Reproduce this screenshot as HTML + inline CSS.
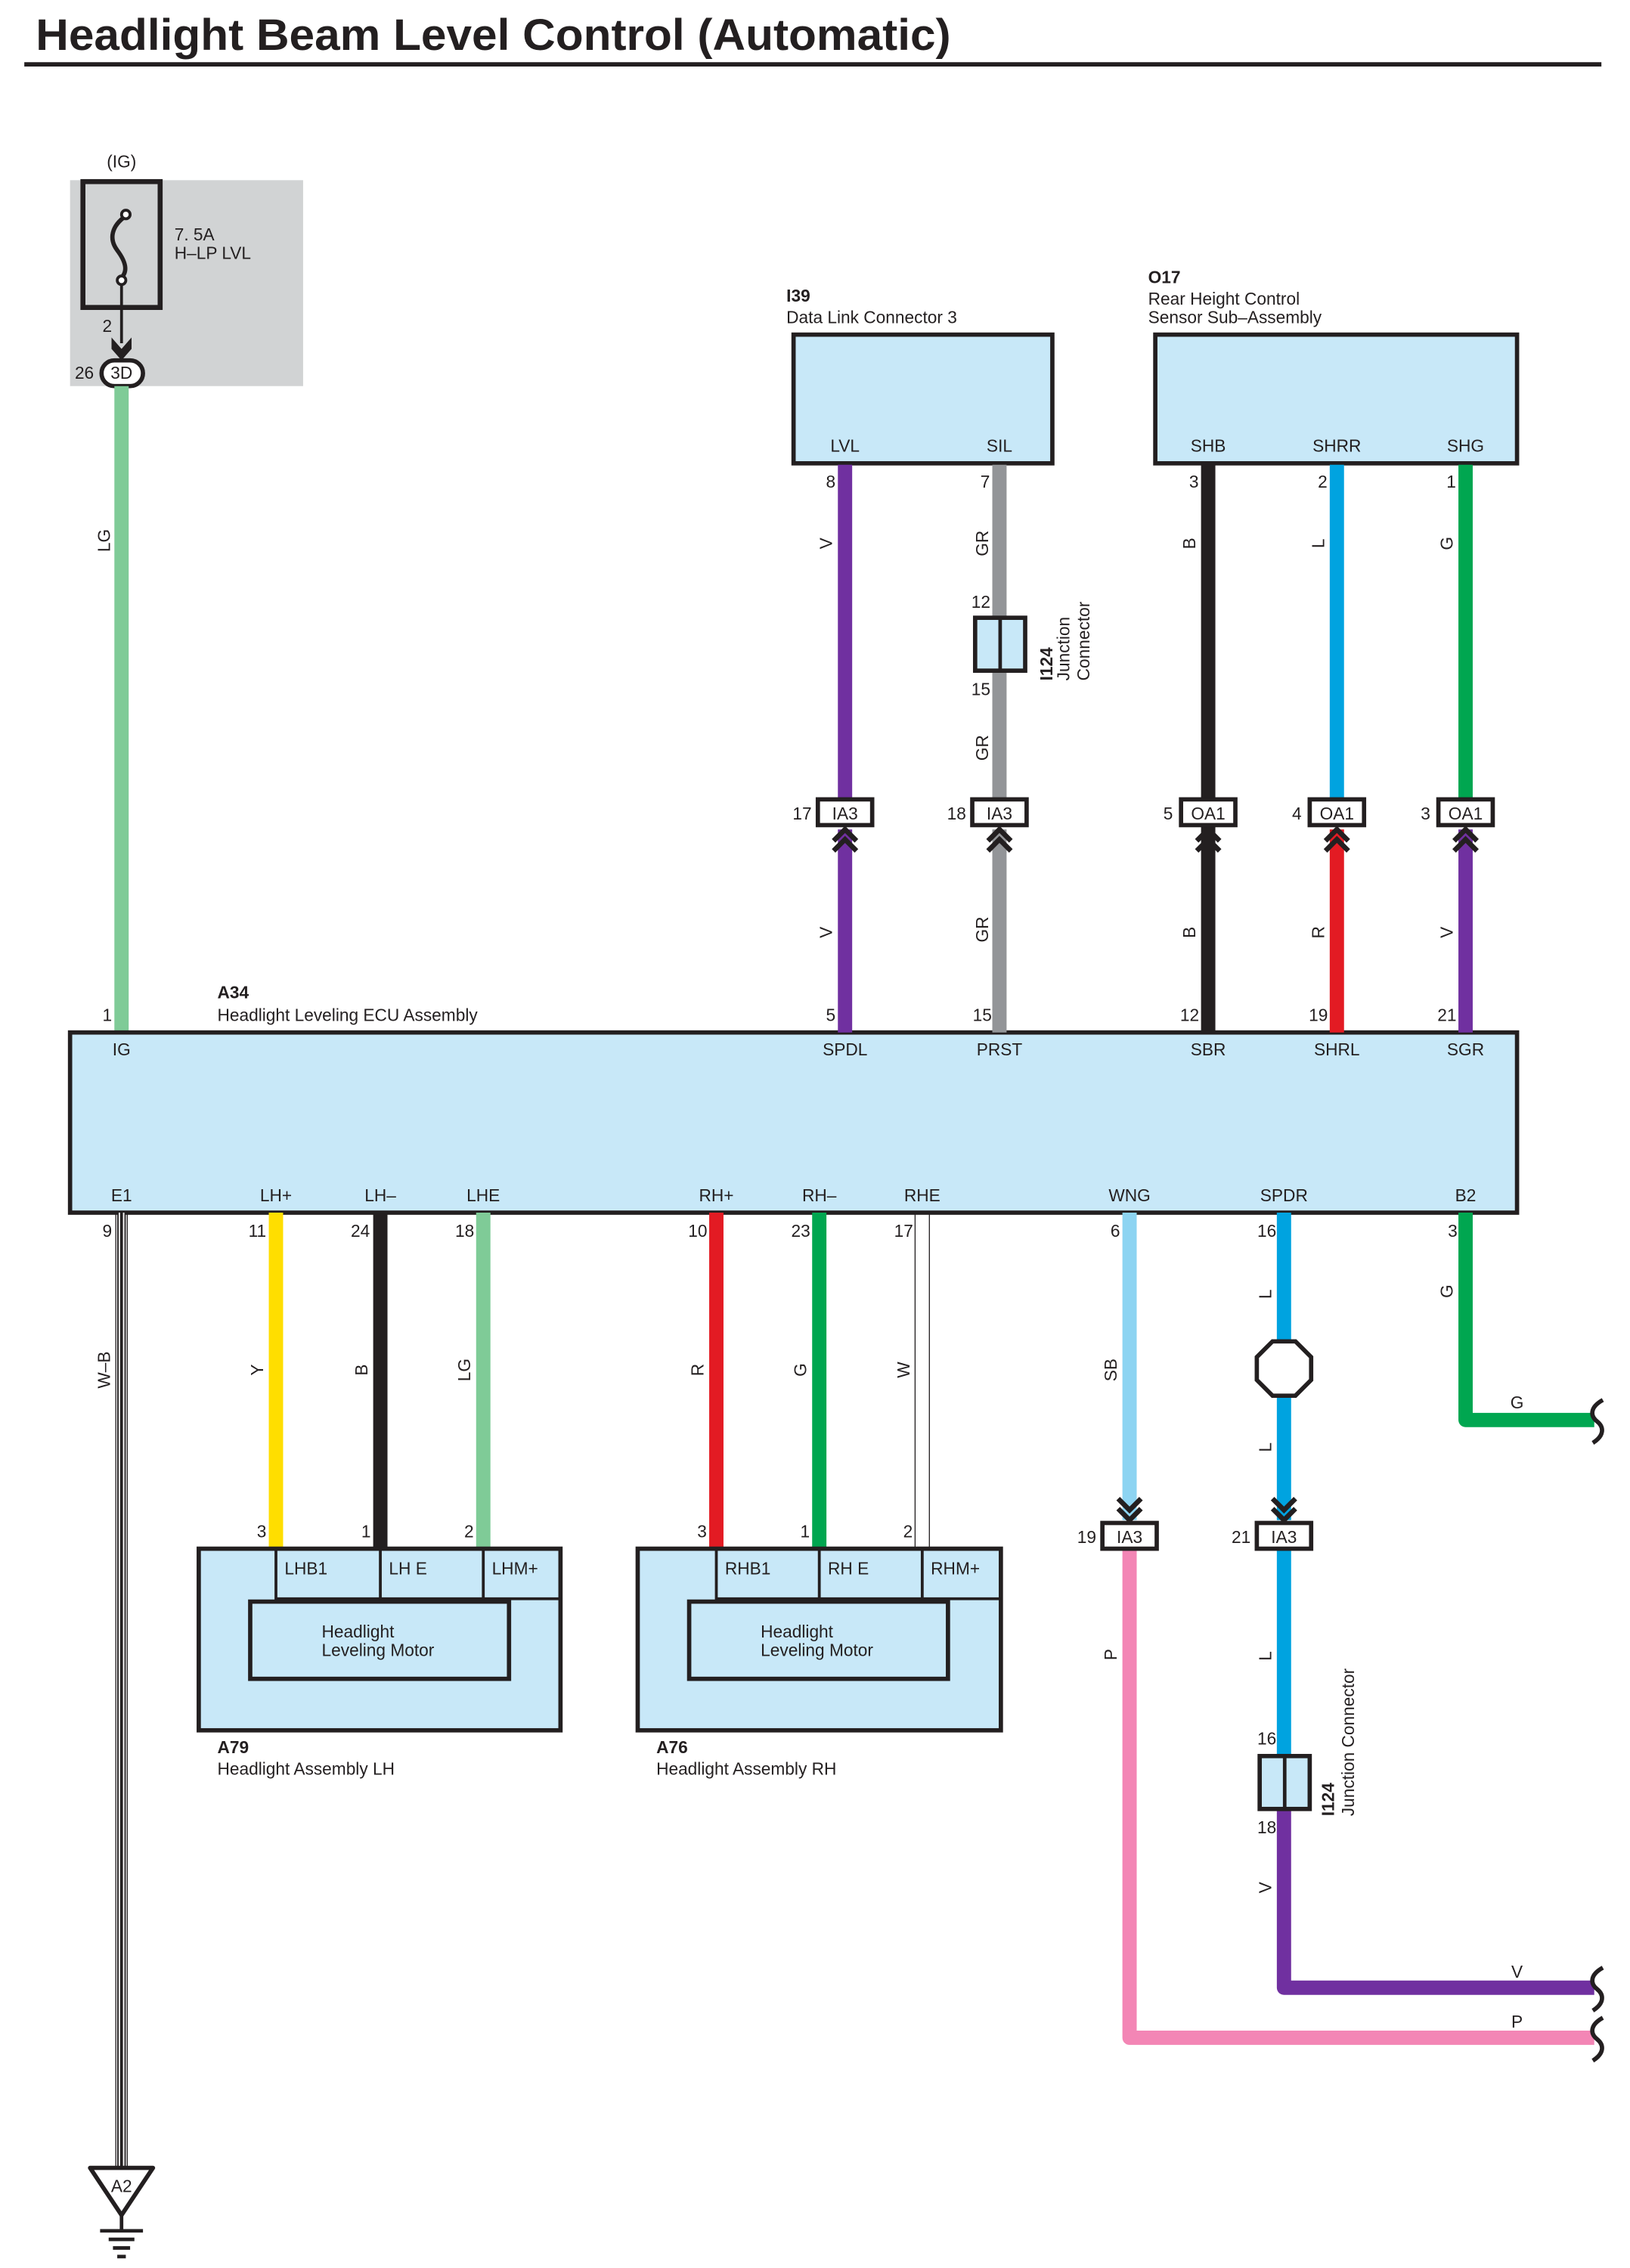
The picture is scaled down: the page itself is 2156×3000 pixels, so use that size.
<!DOCTYPE html>
<html><head><meta charset="utf-8"><style>
html,body{margin:0;padding:0;background:#fff;}
svg{display:block;}
text{font-family:"Liberation Sans",sans-serif;fill:#231f20;}
</style></head><body>
<svg width="2156" height="3000" viewBox="0 0 1140 1586" preserveAspectRatio="none" xmlns="http://www.w3.org/2000/svg">
<defs>
<g id="chevU"><path d="M-8,9 L0,1 L8,9 M-8,16 L0,8 L8,16" fill="none" stroke="#231f20" stroke-width="3.5"/></g>
<g id="chevD"><path d="M-8,-16 L0,-8 L8,-16 M-8,-9 L0,-1 L8,-9" fill="none" stroke="#231f20" stroke-width="3.5"/></g>
</defs>
<text x="25" y="35" font-size="31" font-weight="bold" textLength="640" lengthAdjust="spacingAndGlyphs">Headlight Beam Level Control (Automatic)</text>
<line x1="17" y1="45" x2="1120" y2="45" stroke="#231f20" stroke-width="3"/>

<!-- fuse -->
<rect x="49" y="126" width="163" height="144" fill="#d1d3d4"/>
<text x="85" y="117" font-size="12" text-anchor="middle">(IG)</text>
<rect x="58" y="127" width="54" height="88" fill="none" stroke="#231f20" stroke-width="3.5"/>
<path d="M88,151 C78,158 76,167 82,175 C88,183 90,190 84,195" fill="none" stroke="#231f20" stroke-width="3"/>
<circle cx="88" cy="150" r="3" fill="#fff" stroke="#231f20" stroke-width="2"/>
<circle cx="85" cy="196" r="3" fill="#fff" stroke="#231f20" stroke-width="2"/>
<text x="122" y="168" font-size="12">7. 5A</text>
<text x="122" y="181" font-size="12">H–LP LVL</text>
<line x1="85" y1="199" x2="85" y2="240" stroke="#231f20" stroke-width="2"/>
<path d="M78,236 L85,244 L92,236 L92,244 L85,252 L78,244 Z" fill="#231f20"/>
<text x="75" y="232" font-size="12" text-anchor="middle">2</text>
<rect x="71" y="252" width="29" height="18" rx="9" fill="#fff" stroke="#231f20" stroke-width="3"/>
<text x="85" y="265" font-size="12" text-anchor="middle">3D</text>
<text x="59" y="265" font-size="12" text-anchor="middle">26</text>
<line x1="85" y1="270" x2="85" y2="722" stroke="#7fcb97" stroke-width="10"/>

<!-- ECU -->
<rect x="49" y="722" width="1012" height="126" fill="#c8e8f8" stroke="#231f20" stroke-width="3"/>
<text x="152" y="698" font-size="12" font-weight="bold">A34</text>
<text x="152" y="714" font-size="12">Headlight Leveling ECU Assembly</text>
<g font-size="12" text-anchor="middle">
<text x="85" y="738">IG</text><text x="591" y="738">SPDL</text><text x="699" y="738">PRST</text><text x="845" y="738">SBR</text><text x="935" y="738">SHRL</text><text x="1025" y="738">SGR</text>
<text x="75" y="714">1</text><text x="581" y="714">5</text><text x="687" y="714">15</text><text x="832" y="714">12</text><text x="922" y="714">19</text><text x="1012" y="714">21</text>
<text x="85" y="840">E1</text><text x="193" y="840">LH+</text><text x="266" y="840">LH–</text><text x="338" y="840">LHE</text><text x="501" y="840">RH+</text><text x="573" y="840">RH–</text><text x="645" y="840">RHE</text><text x="790" y="840">WNG</text><text x="898" y="840">SPDR</text><text x="1025" y="840">B2</text>
<text x="75" y="865">9</text><text x="180" y="865">11</text><text x="252" y="865">24</text><text x="325" y="865">18</text><text x="488" y="865">10</text><text x="560" y="865">23</text><text x="632" y="865">17</text><text x="780" y="865">6</text><text x="886" y="865">16</text><text x="1016" y="865">3</text>
</g>

<!-- I39 -->
<text x="550" y="211" font-size="12" font-weight="bold">I39</text>
<text x="550" y="226" font-size="12">Data Link Connector 3</text>
<rect x="555" y="234" width="181" height="90" fill="#c8e8f8" stroke="#231f20" stroke-width="3"/>
<text x="591" y="316" font-size="12" text-anchor="middle">LVL</text>
<text x="699" y="316" font-size="12" text-anchor="middle">SIL</text>
<text x="581" y="341" font-size="12" text-anchor="middle">8</text>
<text x="689" y="341" font-size="12" text-anchor="middle">7</text>

<!-- O17 -->
<text x="803" y="198" font-size="12" font-weight="bold">O17</text>
<text x="803" y="213" font-size="12">Rear Height Control</text>
<text x="803" y="226" font-size="12">Sensor Sub–Assembly</text>
<rect x="808" y="234" width="253" height="90" fill="#c8e8f8" stroke="#231f20" stroke-width="3"/>
<g font-size="12" text-anchor="middle">
<text x="845" y="316">SHB</text><text x="935" y="316">SHRR</text><text x="1025" y="316">SHG</text>
<text x="835" y="341">3</text><text x="925" y="341">2</text><text x="1015" y="341">1</text>
</g>

<!-- upper wires -->
<line x1="591" y1="325" x2="591" y2="560" stroke="#7030a0" stroke-width="10"/>
<line x1="591" y1="580" x2="591" y2="722" stroke="#7030a0" stroke-width="10"/>
<line x1="699" y1="325" x2="699" y2="432" stroke="#939598" stroke-width="10"/>
<line x1="699" y1="469" x2="699" y2="560" stroke="#939598" stroke-width="10"/>
<line x1="699" y1="580" x2="699" y2="722" stroke="#939598" stroke-width="10"/>
<line x1="845" y1="325" x2="845" y2="722" stroke="#231f20" stroke-width="10"/>
<line x1="935" y1="325" x2="935" y2="560" stroke="#00a3e0" stroke-width="10"/>
<line x1="935" y1="580" x2="935" y2="722" stroke="#e31b23" stroke-width="10"/>
<line x1="1025" y1="325" x2="1025" y2="560" stroke="#00a650" stroke-width="10"/>
<line x1="1025" y1="580" x2="1025" y2="722" stroke="#7030a0" stroke-width="10"/>

<!-- I124 junction top -->
<rect x="682" y="432" width="35" height="37" fill="#c8e8f8" stroke="#231f20" stroke-width="3"/>
<line x1="699.5" y1="432" x2="699.5" y2="469" stroke="#231f20" stroke-width="2.5"/>
<text x="686" y="425" font-size="12" text-anchor="middle">12</text>
<text x="686" y="486" font-size="12" text-anchor="middle">15</text>
<text transform="translate(736,476) rotate(-90)" font-size="12" font-weight="bold">I124</text>
<text transform="translate(748,476) rotate(-90)" font-size="12">Junction</text>
<text transform="translate(762,476) rotate(-90)" font-size="12">Connector</text>

<!-- connectors row 568 -->
<g font-size="12" text-anchor="middle">
<rect x="572" y="559" width="38" height="18" fill="#fff" stroke="#231f20" stroke-width="3"/><text x="591" y="573">IA3</text><text x="561" y="573">17</text>
<rect x="680" y="559" width="38" height="18" fill="#fff" stroke="#231f20" stroke-width="3"/><text x="699" y="573">IA3</text><text x="669" y="573">18</text>
<rect x="826" y="559" width="38" height="18" fill="#fff" stroke="#231f20" stroke-width="3"/><text x="845" y="573">OA1</text><text x="817" y="573">5</text>
<rect x="916" y="559" width="38" height="18" fill="#fff" stroke="#231f20" stroke-width="3"/><text x="935" y="573">OA1</text><text x="907" y="573">4</text>
<rect x="1006" y="559" width="38" height="18" fill="#fff" stroke="#231f20" stroke-width="3"/><text x="1025" y="573">OA1</text><text x="997" y="573">3</text>
</g>
<use href="#chevU" x="591" y="579"/><use href="#chevU" x="699" y="579"/><use href="#chevU" x="845" y="579"/><use href="#chevU" x="935" y="579"/><use href="#chevU" x="1025" y="579"/>

<!-- wire labels upper -->
<g font-size="12" text-anchor="middle">
<text transform="translate(582,380) rotate(-90)">V</text>
<text transform="translate(582,652) rotate(-90)">V</text>
<text transform="translate(691,380) rotate(-90)">GR</text>
<text transform="translate(691,523) rotate(-90)">GR</text>
<text transform="translate(691,650) rotate(-90)">GR</text>
<text transform="translate(836,380) rotate(-90)">B</text>
<text transform="translate(836,652) rotate(-90)">B</text>
<text transform="translate(926,380) rotate(-90)">L</text>
<text transform="translate(926,652) rotate(-90)">R</text>
<text transform="translate(1016,380) rotate(-90)">G</text>
<text transform="translate(1016,652) rotate(-90)">V</text>
<text transform="translate(77,378) rotate(-90)">LG</text>
</g>

<!-- E1 ground W-B -->
<line x1="85" y1="848" x2="85" y2="1517" stroke="#231f20" stroke-width="6"/>
<line x1="85" y1="848" x2="85" y2="1517" stroke="#fff" stroke-width="4"/>
<line x1="85" y1="848" x2="85" y2="1517" stroke="#231f20" stroke-width="2"/>
<line x1="81" y1="848" x2="81" y2="1517" stroke="#231f20" stroke-width="0.7"/>
<line x1="89" y1="848" x2="89" y2="1517" stroke="#231f20" stroke-width="0.7"/>
<path d="M63,1516 L107,1516 L85,1549 Z" fill="#fff" stroke="#231f20" stroke-width="3" stroke-linejoin="round"/>
<text x="85" y="1533" font-size="12" text-anchor="middle">A2</text>
<line x1="85" y1="1549" x2="85" y2="1560" stroke="#231f20" stroke-width="2.5"/>
<line x1="70" y1="1560" x2="100" y2="1560" stroke="#231f20" stroke-width="2.5"/>
<line x1="76" y1="1566" x2="94" y2="1566" stroke="#231f20" stroke-width="2.5"/>
<line x1="79" y1="1572" x2="91" y2="1572" stroke="#231f20" stroke-width="2.5"/>
<line x1="82" y1="1578" x2="88" y2="1578" stroke="#231f20" stroke-width="2.5"/>
<text transform="translate(77,958) rotate(-90)" font-size="12" text-anchor="middle">W–B</text>

<!-- LH wires -->
<line x1="193" y1="848" x2="193" y2="1083" stroke="#ffde00" stroke-width="10"/>
<line x1="266" y1="848" x2="266" y2="1083" stroke="#231f20" stroke-width="10"/>
<line x1="338" y1="848" x2="338" y2="1083" stroke="#7fcb97" stroke-width="10"/>
<!-- RH wires -->
<line x1="501" y1="848" x2="501" y2="1083" stroke="#e31b23" stroke-width="10"/>
<line x1="573" y1="848" x2="573" y2="1083" stroke="#00a650" stroke-width="10"/>
<line x1="640" y1="848" x2="640" y2="1083" stroke="#231f20" stroke-width="0.7"/>
<line x1="650" y1="848" x2="650" y2="1083" stroke="#231f20" stroke-width="0.7"/>
<g font-size="12" text-anchor="middle">
<text transform="translate(184,958) rotate(-90)">Y</text>
<text transform="translate(257,958) rotate(-90)">B</text>
<text transform="translate(329,958) rotate(-90)">LG</text>
<text transform="translate(492,958) rotate(-90)">R</text>
<text transform="translate(564,958) rotate(-90)">G</text>
<text transform="translate(636,958) rotate(-90)">W</text>
<text x="183" y="1075">3</text><text x="256" y="1075">1</text><text x="328" y="1075">2</text>
<text x="491" y="1075">3</text><text x="563" y="1075">1</text><text x="635" y="1075">2</text>
</g>

<!-- A79 -->
<g>
<rect x="139" y="1083" width="253" height="127" fill="#c8e8f8" stroke="#231f20" stroke-width="3"/>
<path d="M193,1083 V1118 H392 M266,1083 V1118 M338,1083 V1118" fill="none" stroke="#231f20" stroke-width="2"/>
<rect x="175" y="1120" width="181" height="54" fill="#c8e8f8" stroke="#231f20" stroke-width="3"/>
<text x="199" y="1101" font-size="12">LHB1</text><text x="272" y="1101" font-size="12">LH E</text><text x="344" y="1101" font-size="12">LHM+</text>
<text x="225" y="1145" font-size="12">Headlight</text><text x="225" y="1158" font-size="12">Leveling Motor</text>
<text x="152" y="1226" font-size="12" font-weight="bold">A79</text>
<text x="152" y="1241" font-size="12">Headlight Assembly LH</text>
</g>
<!-- A76 -->
<g>
<rect x="446" y="1083" width="254" height="127" fill="#c8e8f8" stroke="#231f20" stroke-width="3"/>
<path d="M501,1083 V1118 H700 M573,1083 V1118 M645,1083 V1118" fill="none" stroke="#231f20" stroke-width="2"/>
<rect x="482" y="1120" width="181" height="54" fill="#c8e8f8" stroke="#231f20" stroke-width="3"/>
<text x="507" y="1101" font-size="12">RHB1</text><text x="579" y="1101" font-size="12">RH E</text><text x="651" y="1101" font-size="12">RHM+</text>
<text x="532" y="1145" font-size="12">Headlight</text><text x="532" y="1158" font-size="12">Leveling Motor</text>
<text x="459" y="1226" font-size="12" font-weight="bold">A76</text>
<text x="459" y="1241" font-size="12">Headlight Assembly RH</text>
</g>

<!-- WNG -->
<line x1="790" y1="848" x2="790" y2="1063" stroke="#8dd4f2" stroke-width="10"/>
<path d="M790,1083 V1425 H1115" fill="none" stroke="#f386b5" stroke-width="10" stroke-linejoin="round"/>
<!-- SPDR -->
<line x1="898" y1="848" x2="898" y2="1063" stroke="#00a3e0" stroke-width="10"/>
<line x1="898" y1="1083" x2="898" y2="1228" stroke="#00a3e0" stroke-width="10"/>
<path d="M898,1265 V1390 H1115" fill="none" stroke="#7030a0" stroke-width="10" stroke-linejoin="round"/>
<polygon points="890,938 906,938 917,949 917,965 906,976 890,976 879,965 879,949" fill="#fff" stroke="#231f20" stroke-width="3"/>
<!-- B2 -->
<path d="M1025,848 V993 H1115" fill="none" stroke="#00a650" stroke-width="10" stroke-linejoin="round"/>

<g font-size="12" text-anchor="middle">
<rect x="771" y="1065" width="38" height="18" fill="#fff" stroke="#231f20" stroke-width="3"/><text x="790" y="1079">IA3</text><text x="760" y="1079">19</text>
<rect x="879" y="1065" width="38" height="18" fill="#fff" stroke="#231f20" stroke-width="3"/><text x="898" y="1079">IA3</text><text x="868" y="1079">21</text>
</g>
<use href="#chevD" x="790" y="1064"/><use href="#chevD" x="898" y="1064"/>

<rect x="881" y="1228" width="35" height="37" fill="#c8e8f8" stroke="#231f20" stroke-width="3"/>
<line x1="898.5" y1="1228" x2="898.5" y2="1265" stroke="#231f20" stroke-width="2.5"/>
<text x="886" y="1220" font-size="12" text-anchor="middle">16</text>
<text x="886" y="1282" font-size="12" text-anchor="middle">18</text>
<text transform="translate(933,1270) rotate(-90)" font-size="12" font-weight="bold">I124</text>
<text transform="translate(947,1270) rotate(-90)" font-size="12">Junction Connector</text>

<g font-size="12" text-anchor="middle">
<text transform="translate(781,958) rotate(-90)">SB</text>
<text transform="translate(781,1157) rotate(-90)">P</text>
<text transform="translate(889,905) rotate(-90)">L</text>
<text transform="translate(889,1012) rotate(-90)">L</text>
<text transform="translate(889,1158) rotate(-90)">L</text>
<text transform="translate(889,1320) rotate(-90)">V</text>
<text transform="translate(1016,903) rotate(-90)">G</text>
<text x="1061" y="985">G</text>
<text x="1061" y="1383">V</text>
<text x="1061" y="1418">P</text>
</g>
<!-- wire break squiggles -->
<g fill="none" stroke="#231f20" stroke-width="3">
<path d="M1121,979 C1112,984 1112,990 1117,994 C1122,998 1122,1004 1114,1009"/>
<path d="M1121,1376 C1112,1381 1112,1387 1117,1391 C1122,1395 1122,1401 1114,1406"/>
<path d="M1121,1411 C1112,1416 1112,1422 1117,1426 C1122,1430 1122,1436 1114,1441"/>
</g>
</svg>
</body></html>
